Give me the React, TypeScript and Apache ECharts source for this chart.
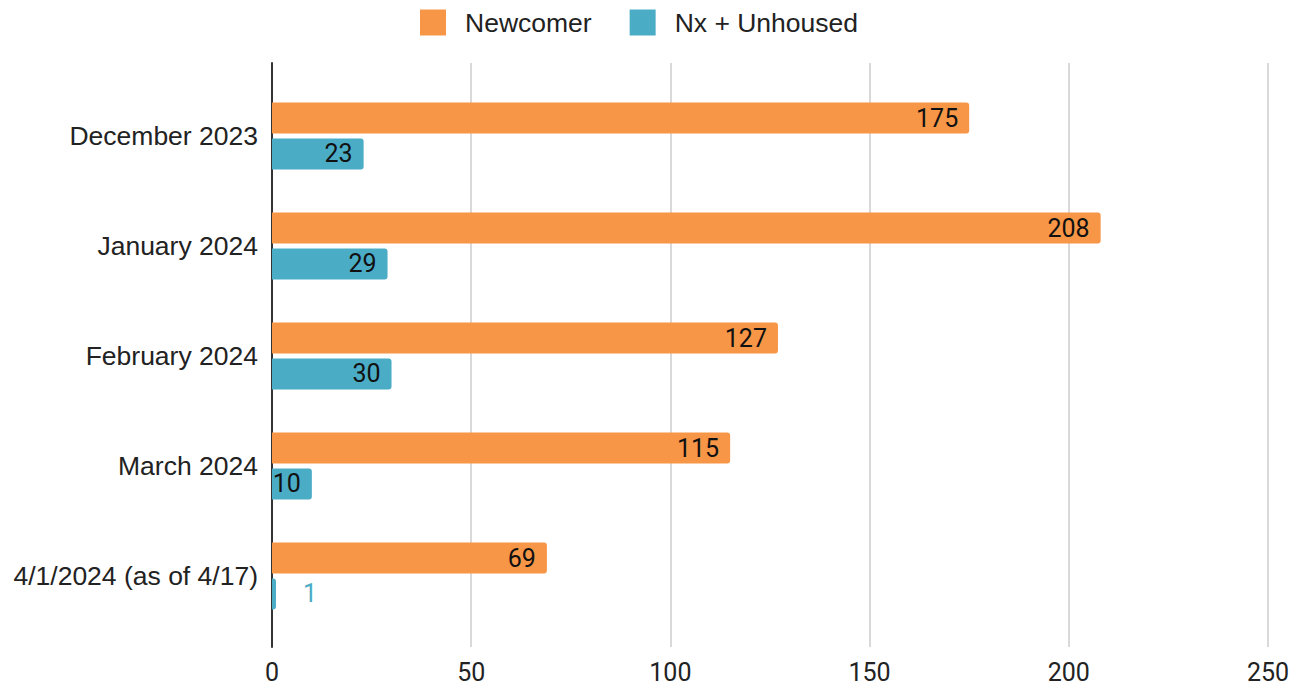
import React, { useEffect, useRef } from "react";
import * as echarts from "echarts";

const categories = [
  "December 2023",
  "January 2024",
  "February 2024",
  "March 2024",
  "4/1/2024 (as of 4/17)",
];
const newcomer = [175, 208, 127, 115, 69];
const unhoused = [23, 29, 30, 10, 1];
const xTicks = { min: 0, max: 250, interval: 50 };

const ORANGE = "#f79646";
const BLUE = "#4bacc6";

export default function App() {
  const ref = useRef<HTMLDivElement>(null);
  useEffect(() => {
    document.body.style.margin = "0";
    const chart = echarts.init(ref.current!, null, { renderer: "svg" });
    const labelBase = {
      show: true,
      position: "insideRight",
      distance: 11,
      color: "#111",
      fontSize: 25,
      fontFamily: "Roboto",
    };
    chart.setOption({
      animation: false,
      legend: {
        top: 4,
        left: 415,
        itemWidth: 26,
        itemHeight: 26,
        itemGap: 38,
        icon: "rect",
        itemStyle: { borderRadius: 3 },
        textStyle: { fontSize: 26.5, color: "#222", fontFamily: "Liberation Sans", padding: [0, 0, 0, 14] },
        data: ["Newcomer", "Nx + Unhoused"],
      },
      grid: [
        { left: 272, right: 27, top: 81, height: 550 },
        { left: 272, right: 27, top: 63, bottom: 41 },
      ],
      xAxis: [
        { gridIndex: 0, type: "value", min: xTicks.min, max: xTicks.max, interval: xTicks.interval, show: false },
        {
          gridIndex: 1,
          type: "value",
          min: xTicks.min,
          max: xTicks.max,
          interval: xTicks.interval,
          axisLine: { show: false },
          axisTick: { show: false },
          splitLine: { show: true, lineStyle: { color: "#cccccc", width: 1.5 } },
          axisLabel: { fontSize: 25, color: "#222", fontFamily: "Roboto", margin: 13 },
        },
      ],
      yAxis: [
        {
          gridIndex: 0,
          type: "category",
          inverse: true,
          data: categories,
          axisLine: { show: false },
          axisTick: { show: false },
          axisLabel: { fontSize: 26.5, color: "#222", fontFamily: "Liberation Sans", margin: 14 },
        },
        {
          gridIndex: 1,
          type: "value",
          min: 0,
          max: 1,
          axisLine: { show: true, onZero: false, lineStyle: { color: "#333", width: 2 } },
          axisTick: { show: false },
          axisLabel: { show: false },
          splitLine: { show: false },
        },
      ],
      series: [
        {
          name: "Newcomer",
          type: "bar",
          xAxisIndex: 0,
          yAxisIndex: 0,
          barWidth: 31,
          barGap: "16%",
          data: newcomer,
          itemStyle: { color: ORANGE, borderRadius: [0, 3, 3, 0] },
          label: labelBase,
        },
        {
          name: "Nx + Unhoused",
          type: "bar",
          xAxisIndex: 0,
          yAxisIndex: 0,
          barWidth: 31,
          barGap: "16%",
          data: unhoused.map((v) =>
            v < 5
              ? { value: v, label: { position: "right", distance: 27, color: BLUE } }
              : v
          ),
          itemStyle: { color: BLUE, borderRadius: [0, 3, 3, 0] },
          label: labelBase,
        },
      ],
    });
    return () => chart.dispose();
  }, []);
  return <div ref={ref} style={{ width: 1295, height: 688 }} />;
}
